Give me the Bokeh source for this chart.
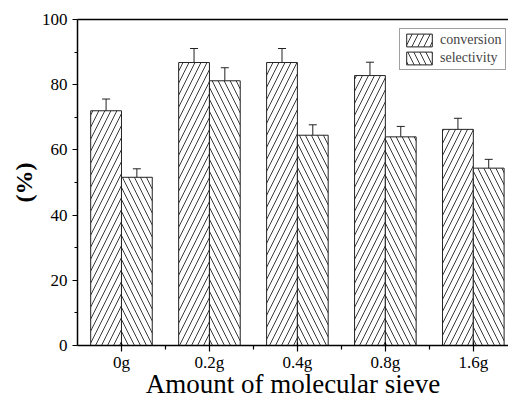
from bokeh.plotting import figure
from bokeh.models import (ColumnDataSource, FixedTicker, LinearAxis, Whisker, TeeHead,
                          Legend, LegendItem, Range1d)
from bokeh.embed import file_html
from bokeh.resources import INLINE

categories = ["0g", "0.2g", "0.4g", "0.8g", "1.6g"]
conversion = [72.0, 86.8, 86.8, 82.8, 66.3]
conversion_err = [3.6, 4.3, 4.3, 4.1, 3.4]
selectivity = [51.6, 81.2, 64.5, 64.0, 54.4]
selectivity_err = [2.6, 4.0, 3.2, 3.2, 2.7]
y_ticks = [0, 20, 40, 60, 80, 100]

FONT = "Liberation Serif"
n = len(categories)
idx = list(range(n))
bw = 0.35

src_c = ColumnDataSource(dict(x=[i - bw / 2 for i in idx], top=conversion,
                              upper=[v + e for v, e in zip(conversion, conversion_err)],
                              lower=[v - e for v, e in zip(conversion, conversion_err)]))
src_s = ColumnDataSource(dict(x=[i + bw / 2 for i in idx], top=selectivity,
                              upper=[v + e for v, e in zip(selectivity, selectivity_err)],
                              lower=[v - e for v, e in zip(selectivity, selectivity_err)]))

p = figure(width=508, height=401, output_backend="svg", toolbar_location=None,
           x_range=Range1d(-0.5, 4.40), y_range=Range1d(0, 100),
           min_border_left=77, min_border_top=19, min_border_right=0, min_border_bottom=0)
p.outline_line_color = None
p.grid.visible = False
p.background_fill_color = "white"
p.border_fill_color = "white"

rc = p.vbar(x="x", top="top", width=bw, source=src_c, fill_color="white", line_color="#222222",
            line_width=1, hatch_pattern="/", hatch_color="#222222", hatch_scale=12, hatch_weight=0.9)
rs = p.vbar(x="x", top="top", width=bw, source=src_s, fill_color="white", line_color="#222222",
            line_width=1, hatch_pattern="\\", hatch_color="#222222", hatch_scale=12, hatch_weight=0.9)

for src in (src_c, src_s):
    w = Whisker(base="x", upper="upper", lower="lower", source=src, dimension="height",
                line_color="#222222", line_width=1,
                upper_head=TeeHead(size=8, line_color="#222222", line_width=1),
                lower_head=TeeHead(size=8, line_color="#222222", line_width=1))
    p.add_layout(w)

# x axis
xa = p.xaxis[0]
xa.ticker = FixedTicker(ticks=idx, minor_ticks=[i + 0.5 for i in idx[:-1]])
xa.major_label_overrides = {i: c for i, c in zip(idx, categories)}
xa.major_tick_in = 3
xa.major_tick_out = 6
xa.minor_tick_in = 0
xa.minor_tick_out = 4
xa.axis_line_width = 1.5
xa.major_tick_line_width = 1.2
xa.minor_tick_line_width = 1.2
xa.major_label_text_font = FONT
xa.major_label_text_font_size = "17px"
xa.major_label_text_color = "black"
xa.major_label_standoff = 1
xa.axis_label = "Amount of molecular sieve"
xa.axis_label_text_font = FONT
xa.axis_label_text_font_size = "27px"
xa.axis_label_text_font_style = "normal"
xa.axis_label_text_color = "black"
xa.axis_label_standoff = -6

# y axis
ya = p.yaxis[0]
ya.ticker = FixedTicker(ticks=y_ticks, minor_ticks=[t + 10 for t in y_ticks[:-1]])
ya.major_tick_in = 0
ya.major_tick_out = 5
ya.minor_tick_in = 0
ya.minor_tick_out = 3
ya.axis_line_width = 1.5
ya.major_tick_line_width = 1.2
ya.minor_tick_line_width = 1.2
ya.major_label_text_font = FONT
ya.major_label_text_font_size = "17px"
ya.major_label_text_color = "black"
ya.major_label_standoff = 5
ya.axis_label = "(%)"
ya.axis_label_text_font = FONT
ya.axis_label_text_font_size = "24px"
ya.axis_label_text_font_style = "bold"
ya.axis_label_text_color = "black"
ya.axis_label_standoff = 2

# top frame line
top = LinearAxis(ticker=FixedTicker(ticks=[]), major_label_text_font_size="0px",
                 major_tick_line_color=None, minor_tick_line_color=None, axis_line_width=1.5)
p.add_layout(top, "above")

legend = Legend(items=[LegendItem(label="conversion", renderers=[rc]),
                       LegendItem(label="selectivity", renderers=[rs])],
                location=(322, 275), margin=0, padding=3, spacing=2,
                glyph_width=32, glyph_height=16, label_standoff=5,
                label_width=62,
                label_text_font=FONT, label_text_font_size="14px",
                label_text_font_style="normal",
                border_line_color="#444444", border_line_width=1,
                label_height=16)
p.add_layout(legend)

open("out.html", "w").write(file_html(p, INLINE))
